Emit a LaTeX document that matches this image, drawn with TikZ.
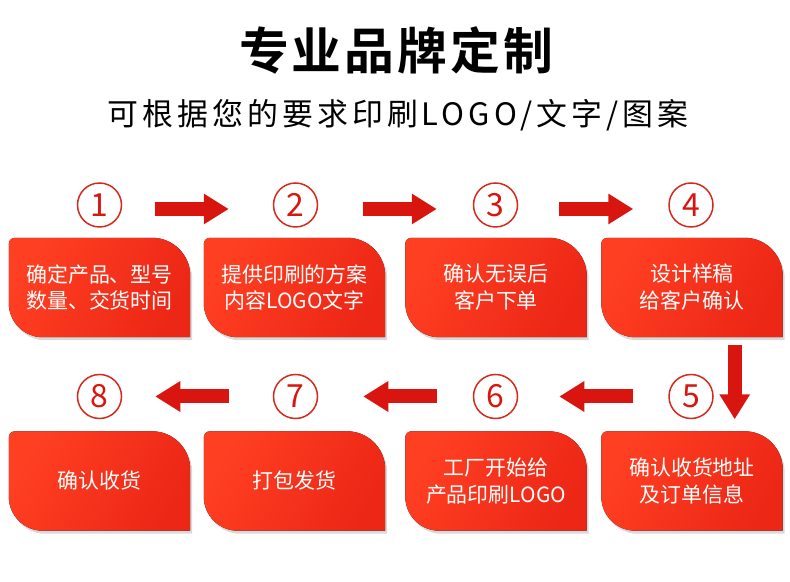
\documentclass[tikz,border=0pt]{standalone}
\usepackage{fontspec}
\setmainfont{Noto Sans CJK SC}
\newfontfamily\spacedfont[LetterSpace=13]{Noto Sans CJK SC}
\newfontfamily\titlefont[LetterSpace=6]{Noto Sans CJK SC Bold}
\usepackage{tikz}
\usetikzlibrary{arrows.meta,positioning,backgrounds,shadows}
\definecolor{flowRed}{HTML}{D8150E}
\definecolor{flowLight}{HTML}{FF3F22}
\definecolor{flowDark}{HTML}{EC2716}
\definecolor{flowRing}{HTML}{D42A1C}

\begin{document}
\begin{tikzpicture}[
        x=1bp, y=1bp,
        box/.style={
            minimum width=181bp,
            minimum height=99bp,
            inner sep=0pt,
            align=center,
            text=white,
            font=\fontsize{21}{27}\selectfont
        },
        leaf/.style={
            left color=flowLight,
            right color=flowDark,
            shading angle=60,
            drop shadow={shadow xshift=2bp, shadow yshift=-3bp, opacity=0.3}
        },
        num/.style={
            circle,
            draw=flowRing,
            line width=1.5bp,
            minimum size=44bp,
            inner sep=0pt,
            text=flowRed,
            font=\fontsize{32}{32}\selectfont
        },
        bigarrow/.style={
            -{Triangle[length=25bp, width=29bp]},
            line width=14bp,
            draw=flowRed
        }
    ]
    \useasboundingbox (0,0) rectangle (790,582);

    \node[font=\titlefont\fontsize{50}{50}\selectfont] (title) at (396,532) {专业品牌定制};
    \node[font=\spacedfont\fontsize{31}{31}\selectfont] (subtitle) at (398,467) {可根据您的要求印刷LOGO/文字/图案};

    \node[num] (c1) at (99.5,377) {1};
    \node[num] (c2) at (295.5,377) {2};
    \node[num] (c3) at (495.5,377) {3};
    \node[num] (c4) at (691,377) {4};
    \node[num] (c5) at (691,185.5) {5};
    \node[num] (c6) at (495.5,185.5) {6};
    \node[num] (c7) at (295.5,185.5) {7};
    \node[num] (c8) at (99.5,185.5) {8};

    \node[box] (b1) at (99.5,294.5) {确定产品、型号\\数量、交货时间};
    \node[box] (b2) at (294.5,294.5) {提供印刷的方案\\内容LOGO文字};
    \node[box] (b3) at (496,294.5) {确认无误后\\客户下单};
    \node[box] (b4) at (692,294.5) {设计样稿\\给客户确认};
    \node[box] (b5) at (692,101) {确认收货地址\\及订单信息};
    \node[box] (b6) at (496,101) {工厂开始给\\产品印刷LOGO};
    \node[box] (b7) at (294.5,101) {打包发货};
    \node[box] (b8) at (99.5,101) {确认收货};

    % leaf shaped panels behind the texts
    \begin{scope}[on background layer]
    \foreach \b in {b1,b2,b3,b4,b5,b6,b7,b8}
        \fill[leaf] ([xshift=6bp]\b.north west) -- ([xshift=-38bp]\b.north east)
            arc[start angle=90, end angle=0, radius=38bp] -- (\b.south east)
            -- ([xshift=34bp]\b.south west)
            arc[start angle=270, end angle=180, radius=34bp] -- ([yshift=-6bp]\b.north west)
            arc[start angle=180, end angle=90, radius=6bp] -- cycle;
    \end{scope}

    \draw[bigarrow, shorten <=33bp, shorten >=44bp] ([yshift=-4bp]c1.east) -- ([yshift=-4bp]c2.west);
    \draw[bigarrow, shorten <=45bp, shorten >=36bp] ([yshift=-4bp]c2.east) -- ([yshift=-4bp]c3.west);
    \draw[bigarrow, shorten <=41bp, shorten >=35bp] ([yshift=-4bp]c3.east) -- ([yshift=-4bp]c4.west);
    \draw[bigarrow, shorten <=8bp, shorten >=12bp] ([xshift=-48bp]b4.south east) -- ([xshift=-48bp]b5.north east);
    \draw[bigarrow, shorten <=35bp, shorten >=41bp] (c5.west) -- (c6.east);
    \draw[bigarrow, shorten <=36bp, shorten >=45bp] (c6.west) -- (c7.east);
    \draw[bigarrow, shorten <=44bp, shorten >=33bp] (c7.west) -- (c8.east);

    \end{tikzpicture}
\end{document}
